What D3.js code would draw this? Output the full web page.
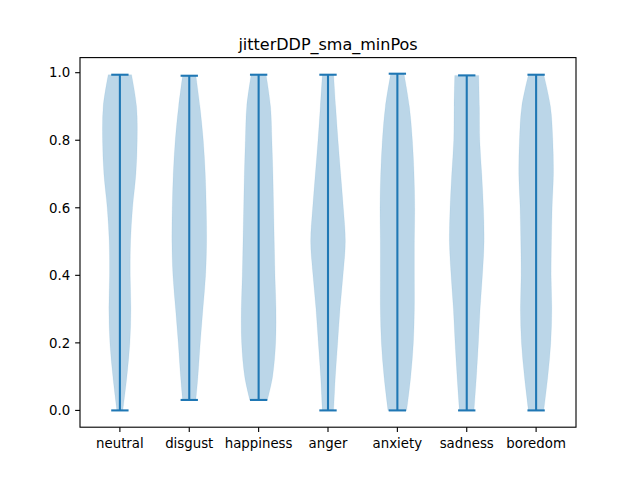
<!DOCTYPE html>
<html><head><meta charset="utf-8">
<script src="https://cdn.jsdelivr.net/npm/d3@7"></script>
<style>body{margin:0;background:#fff}svg{display:block}text{font-family:"DejaVu Sans",sans-serif;fill:#000}</style>
</head><body>
<svg id="c" width="640" height="480"></svg>
<script>
const categories = ["neutral","disgust","happiness","anger","anxiety","sadness","boredom"];
const mins = [0.0, 0.031, 0.031, 0.0, 0.0, 0.0, 0.0];
const maxs = [0.994, 0.991, 0.994, 0.994, 0.997, 0.992, 0.994];
// interior density sample levels (between max on top and min at bottom)
const levels = [0.9, 0.8, 0.7, 0.6, 0.5, 0.4, 0.3, 0.2, 0.1];
// relative widths: at max, then at each level, then at min
const dNeutral   = [35, 50, 52, 48, 38, 32, 31, 33, 30, 21, 9];
const dDisgust   = [20, 32, 42, 48, 51, 52, 49, 41, 33, 26, 20];
const dHappiness = [22, 35, 39, 42, 44, 46, 48, 51, 50, 41, 26];
const dAnger     = [17, 23, 30, 38, 46, 52, 45, 36, 29, 22, 17];
const dAnxiety   = [20, 36, 45, 50, 52, 51, 51, 51, 48, 40, 28];
const dSadness   = [36, 38, 39, 45, 50, 52, 47, 40, 35, 29, 22];
const dBoredom   = [23, 43, 50, 52, 48, 46, 45, 47, 44, 35, 23];
const densities = [dNeutral, dDisgust, dHappiness, dAnger, dAnxiety, dSadness, dBoredom];
const yTicks = [0.0, 0.2, 0.4, 0.6, 0.8, 1.0];
const title = "jitterDDP_sma_minPos";

const svg = d3.select("#c");
const L = 80, R = 576, T = 57.6, B = 427.2;
const x = d3.scaleLinear().domain([0.425, 7.575]).range([L, R]);
const y = d3.scaleLinear().domain([-0.0497, 1.0447]).range([B, T]);
const halfW = 0.25; // violin half width in x units
const capW = 0.125;
const blue = "#1f77b4";
const lw = 2.08, aw = 1.11, tl = 4.86;

categories.forEach((c, i) => {
  const pos = i + 1;
  const d = densities[i];
  const mx = d3.max(d);
  const vals = [maxs[i], ...levels.filter(l => l < maxs[i] && l > mins[i]), mins[i]];
  const pts = vals.map((v, k) => ({v, w: d[k] / mx * halfW}));
  const area = d3.area()
    .y(p => y(p.v))
    .x0(p => x(pos - p.w))
    .x1(p => x(pos + p.w))
    .curve(d3.curveCatmullRom);
  svg.append("path").attr("d", area(pts))
    .attr("fill", blue).attr("fill-opacity", 0.3).attr("stroke", blue).attr("stroke-opacity", 0.15).attr("stroke-width", 0.5);
  svg.append("line").attr("x1", x(pos)).attr("x2", x(pos)).attr("y1", y(mins[i])).attr("y2", y(maxs[i]))
    .attr("stroke", blue).attr("stroke-width", lw);
  [mins[i], maxs[i]].forEach(v => {
    svg.append("line").attr("x1", x(pos - capW)).attr("x2", x(pos + capW)).attr("y1", y(v)).attr("y2", y(v))
      .attr("stroke", blue).attr("stroke-width", lw);
  });
});

svg.append("rect").attr("x", L).attr("y", T).attr("width", R - L).attr("height", B - T)
  .attr("fill", "none").attr("stroke", "#000").attr("stroke-width", aw);

yTicks.forEach(t => {
  svg.append("line").attr("x1", L - tl).attr("x2", L).attr("y1", y(t)).attr("y2", y(t)).attr("stroke", "#000").attr("stroke-width", aw);
  svg.append("text").attr("x", L - 2 * tl).attr("y", y(t) + 4.8).attr("text-anchor", "end").attr("font-size", "13.33px").text(t.toFixed(1));
});
categories.forEach((c, i) => {
  const px = x(i + 1);
  svg.append("line").attr("x1", px).attr("x2", px).attr("y1", B).attr("y2", B + tl).attr("stroke", "#000").attr("stroke-width", aw);
  svg.append("text").attr("x", px).attr("y", 447.5).attr("text-anchor", "middle").attr("font-size", "13.33px").text(c);
});
svg.append("text").attr("x", (L + R) / 2).attr("y", 49.6).attr("text-anchor", "middle").attr("font-size", "16px").text(title);
</script>
</body></html>
